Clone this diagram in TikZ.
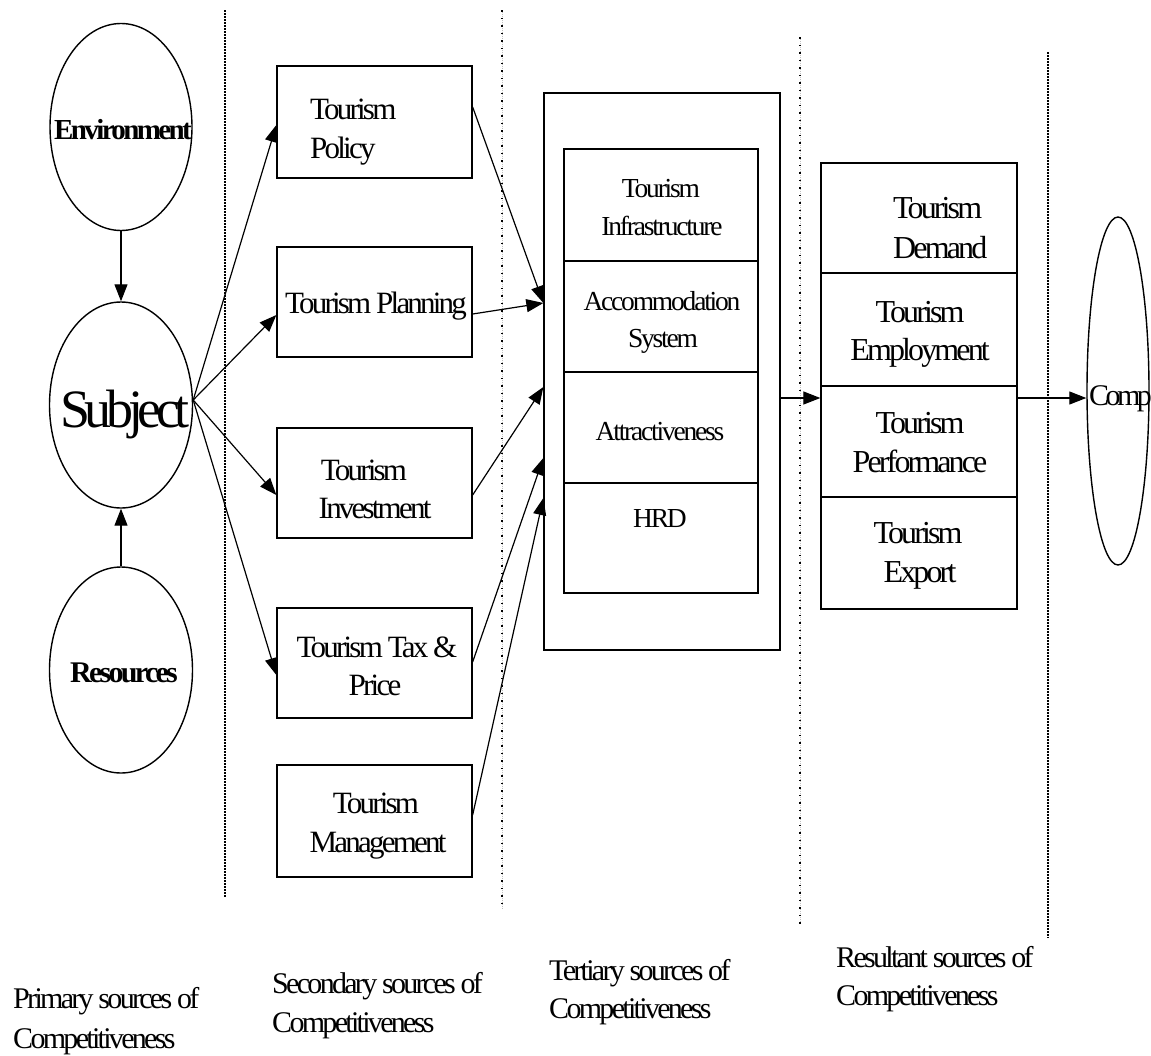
\documentclass[tikz,border=0pt]{standalone}
\usepackage{fontspec}
\setmainfont{Liberation Serif}
\newfontfamily\fa{Liberation Serif}[LetterSpace=-9]
\newfontfamily\fb{Liberation Serif}[LetterSpace=-8]
\newfontfamily\fsub{Liberation Serif}[LetterSpace=-10]
\newfontfamily\fcomp{Liberation Serif}[LetterSpace=-12]
\usetikzlibrary{shapes.geometric,arrows.meta}
\begin{document}
\begin{tikzpicture}[x=1pt,y=-1pt,
  box/.style={draw, rectangle, line width=1.3pt, inner sep=0pt},
  oval/.style={draw, ellipse, line width=1.4pt, inner sep=0pt},
  arr/.style={line width=1.2pt, -{Triangle[length=17pt,width=13pt]}},
  sepA/.style={line width=1.6pt, dash pattern=on 1.5pt off 1.5pt},
  sepB/.style={draw=gray!50, line width=1pt, dash pattern=on 1pt off 1pt,
    postaction={draw=black, line width=1.6pt, dash pattern=on 1.5pt off 6pt}},
  txs/.style={inner sep=0pt, font=\fa\fontsize{31}{39}\selectfont},
  txt/.style={inner sep=0pt, font=\fb\fontsize{27.5}{38}\selectfont},
  txr/.style={inner sep=0pt, font=\fa\fontsize{32}{40}\selectfont},
  txc/.style={inner sep=0pt, font=\fa\fontsize{30}{40}\selectfont, anchor=base west},
  txe/.style={inner sep=0pt, font=\fa\bfseries\fontsize{29}{36}\selectfont},
]
\useasboundingbox (0,0) rectangle (1151,1055);

% column separators
\draw[sepA] (225,10) -- (225,897);
\draw[sepB] (502,10) -- (502,910);
\draw[sepB] (800,37) -- (800,925);
\draw[sepA] (1048,52) -- (1048,938);

% primary sources
\node[oval, minimum width=142pt, minimum height=207pt] (env)  at (121,127) {};
\node[oval, minimum width=143pt, minimum height=206pt] (subj) at (121,405) {};
\node[oval, minimum width=143pt, minimum height=206pt] (rsrc) at (121,670) {};
\node[txe, anchor=base] (envT) at (123,139) {Environment};
\node[inner sep=0pt, anchor=base, font=\fsub\fontsize{54}{60}\selectfont] (subjT) at (125,427) {Subject};
\node[txe, anchor=base, font=\fa\bfseries\fontsize{30}{36}\selectfont] (rsrcT) at (124,682) {Resources};

% secondary sources
\node[box, minimum width=195pt, minimum height=112pt] (pol)  at (374.5,122) {};
\node[box, minimum width=195pt, minimum height=110pt] (plan) at (374.5,302) {};
\node[box, minimum width=195pt, minimum height=110pt] (inv)  at (374.5,483) {};
\node[box, minimum width=195pt, minimum height=110pt] (tax)  at (374.5,663) {};
\node[box, minimum width=195pt, minimum height=112pt] (mgmt) at (374.5,821) {};
\node[txs, anchor=base west] (polA) at (310,119) {Tourism};
\node[txs, anchor=base west] (polB) at (310,158) {Policy};
\node[txs, anchor=base] (planA) at (376,313) {Tourism Planning};
\node[txs, anchor=base] (invA) at (364,480) {Tourism};
\node[txs, anchor=base] (invB) at (375,518) {Investment};
\node[txs, anchor=base] (taxA) at (377,657) {Tourism Tax \&};
\node[txs, anchor=base] (taxB) at (375,695) {Price};
\node[txs, anchor=base] (mgmtA) at (376,813) {Tourism};
\node[txs, anchor=base] (mgmtB) at (378,852) {Management};

% tertiary sources
\node[box, minimum width=236pt, minimum height=557pt] (tert) at (662,371.5) {};
\node[box, minimum width=194pt, minimum height=112pt] (ti1) at (661,205) {};
\node[box, minimum width=194pt, minimum height=111pt] (ti2) at (661,316.5) {};
\node[box, minimum width=194pt, minimum height=111pt] (ti3) at (661,427.5) {};
\node[box, minimum width=194pt, minimum height=110pt] (ti4) at (661,538) {};
\node[txt, anchor=base] (ti1A) at (661,197) {Tourism};
\node[txt, anchor=base] (ti1B) at (662,235) {Infrastructure};
\node[txt, anchor=base] (ti2A) at (662,310) {Accommodation};
\node[txt, anchor=base] (ti2B) at (663,347) {System};
\node[txt, anchor=base] (ti3A) at (660,440) {Attractiveness};
\node[txt, anchor=base] (ti4A) at (660,527) {HRD};

% resultant sources
\node[box, minimum width=196pt, minimum height=446pt] (resb) at (919,386) {};
\node[box, minimum width=196pt, minimum height=110pt] (rb1) at (919,218) {};
\node[box, minimum width=196pt, minimum height=113pt] (rb2) at (919,329.5) {};
\node[box, minimum width=196pt, minimum height=111pt] (rb3) at (919,441.5) {};
\node[box, minimum width=196pt, minimum height=112pt] (rb4) at (919,553) {};
\node[txr, anchor=base west] (rb1A) at (893,218) {Tourism};
\node[txr, anchor=base west] (rb1B) at (893,258) {Demand};
\node[txr, anchor=base] (rb2A) at (920,322) {Tourism};
\node[txr, anchor=base] (rb2B) at (920,360) {Employment};
\node[txr, anchor=base] (rb3A) at (920,433) {Tourism};
\node[txr, anchor=base] (rb3B) at (920,472) {Performance};
\node[txr, anchor=base] (rb4A) at (918,543) {Tourism};
\node[txr, anchor=base] (rb4B) at (920,582) {Export};

% outcome
\node[oval, minimum width=62pt, minimum height=348pt] (comp) at (1118,391) {};
\node[inner sep=0pt, anchor=base west, font=\fcomp\fontsize{30}{36}\selectfont] (compT) at (1089,405) {Comp};

% connectors
\draw[arr] (env.south) -- (subj.north);
\draw[arr] (rsrc.north) -- (subj.south);
\draw[arr] ([yshift=5pt]subj.east) -- ([yshift=-3pt]pol.west);
\draw[arr] ([yshift=5pt]subj.east) -- ([yshift=-13pt]plan.west);
\draw[arr] ([yshift=5pt]subj.east) -- ([yshift=-12pt]inv.west);
\draw[arr] ([yshift=5pt]subj.east) -- ([yshift=-12pt]tax.west);
\draw[arr] ([yshift=15pt]pol.east) -- ([yshift=68.5pt]tert.west);
\draw[arr] ([yshift=-12pt]plan.east) -- ([yshift=68.5pt]tert.west);
\draw[arr] ([yshift=-12pt]inv.east) -- ([yshift=-15.5pt]tert.west);
\draw[arr] ([yshift=1pt]tax.east) -- ([yshift=-86.5pt]tert.west);
\draw[arr] ([yshift=6pt]mgmt.east) -- ([yshift=-126.5pt]tert.west);
\draw[arr] ([yshift=-26.5pt]tert.east) -- ([yshift=-12pt]resb.west);
\draw[arr] ([yshift=-12pt]resb.east) -- ([yshift=-7pt]comp.west);

% column captions
\node[txc] (c1a) at (13,1008) {Primary sources of};
\node[txc] (c1b) at (13,1048) {Competitiveness};
\node[txc] (c2a) at (272,993) {Secondary sources of};
\node[txc] (c2b) at (272,1032) {Competitiveness};
\node[txc] (c3a) at (549,980) {Tertiary sources of};
\node[txc] (c3b) at (549,1018) {Competitiveness};
\node[txc] (c4a) at (836,967) {Resultant sources of};
\node[txc] (c4b) at (836,1005) {Competitiveness};
\end{tikzpicture}
\end{document}
